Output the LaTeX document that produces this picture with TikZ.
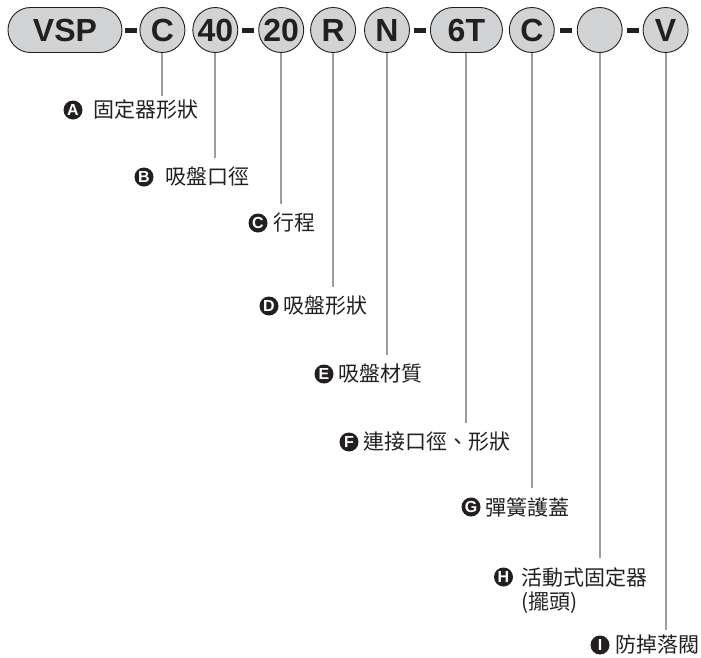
\documentclass[tikz,border=0pt]{standalone}
\usepackage{fontspec}
\setsansfont{Liberation Sans}
\newfontfamily\cjk{Noto Sans CJK TC}
\usetikzlibrary{positioning, calc}
\definecolor{codefill}{HTML}{D1D3D4}
\definecolor{leadgray}{HTML}{9A9C9F}
\definecolor{inkblack}{HTML}{231F20}

\begin{document}
\begin{tikzpicture}[
x=1pt, y=-1pt,
codebox/.style={circle, draw=inkblack, line width=0.9pt, fill=codefill, minimum size=45pt, inner sep=0pt, text=inkblack, font=\sffamily\bfseries\fontsize{32}{32}\selectfont},
pillbox/.style={codebox, rectangle, rounded corners=22.5pt, minimum height=45pt},
hyphbar/.style={rectangle, fill=inkblack, minimum width=12pt, minimum height=5pt, inner sep=0pt},
tagdot/.style={circle, fill=inkblack, minimum size=19pt, inner sep=0pt, text=white, font=\sffamily\bfseries\fontsize{16}{16}\selectfont},
labtext/.style={inner sep=0pt, text=inkblack, font=\cjk\fontsize{21}{26}\selectfont},
leadline/.style={draw=leadgray, line width=2pt, shorten >=9pt}
]
\useasboundingbox (0,0) rectangle (701,657);

\node[pillbox, minimum width=114pt] (vsp) at (65,30) {VSP};
\node[codebox, right=17pt of vsp] (mount) {C};
\node[codebox, right=7pt of mount] (dia) {40};
\node[codebox, right=20pt of dia] (stroke) {20};
\node[codebox, right=6pt of stroke] (form) {R};
\node[codebox, right=8pt of form] (material) {N};
\node[pillbox, minimum width=72pt, right=20pt of material] (port) {6T};
\node[codebox, right=6pt of port] (cover) {C};
\node[codebox, right=22pt of cover] (swivel) {};
\node[codebox, right=20pt of swivel] (valve) {V};

\foreach \a/\b in {vsp/mount, dia/stroke, material/port, cover/swivel, swivel/valve}
  \node[hyphbar] (dash-\a) at ($(\a.east)!0.5!(\b.west)$) {};

\node[tagdot] (tagA) at (73,110) {A};
\node[labtext, right=11pt of tagA] (labA) {固定器形狀};

\node[tagdot] (tagB) at (144,177) {B};
\node[labtext, right=12pt of tagB] (labB) {吸盤口徑};

\node[tagdot] (tagC) at (258,223) {C};
\node[labtext, right=6pt of tagC] (labC) {行程};

\node[tagdot] (tagD) at (269,306) {D};
\node[labtext, right=5pt of tagD] (labD) {吸盤形狀};

\node[tagdot] (tagE) at (324,374) {E};
\node[labtext, right=5pt of tagE] (labE) {吸盤材質};

\node[tagdot] (tagF) at (349,442) {F};
\node[labtext, right=5pt of tagF] (labF) {連接口徑、形狀};

\node[tagdot] (tagG) at (471,507) {G};
\node[labtext, right=5pt of tagG] (labG) {彈簧護蓋};

\node[tagdot] (tagH) at (503.5,577) {H};
\node[labtext, right=8pt of tagH] (labH) {活動式固定器};
\node[labtext, anchor=west] (labH2) at ([yshift=-26pt]labH.west) {(擺頭)};

\node[tagdot] (tagI) at (600,645) {I};
\node[labtext, right=6pt of tagI] (labI) {防掉落閥};

\draw[leadline, shorten >=4pt] (mount.south) -- (mount.south |- tagA.north);
\draw[leadline] (dia.south) -- (dia.south |- tagB.north);
\draw[leadline] (stroke.south) -- (stroke.south |- tagC.north);
\draw[leadline] (form.south) -- (form.south |- tagD.north);
\draw[leadline] (material.south) -- (material.south |- tagE.north);
\draw[leadline] (port.south) -- (port.south |- tagF.north);
\draw[leadline] (cover.south) -- (cover.south |- tagG.north);
\draw[leadline] (swivel.south) -- (swivel.south |- tagH.north);
\draw[leadline, shorten >=5pt] (valve.south) -- (valve.south |- tagI.north);

\end{tikzpicture}
\end{document}
